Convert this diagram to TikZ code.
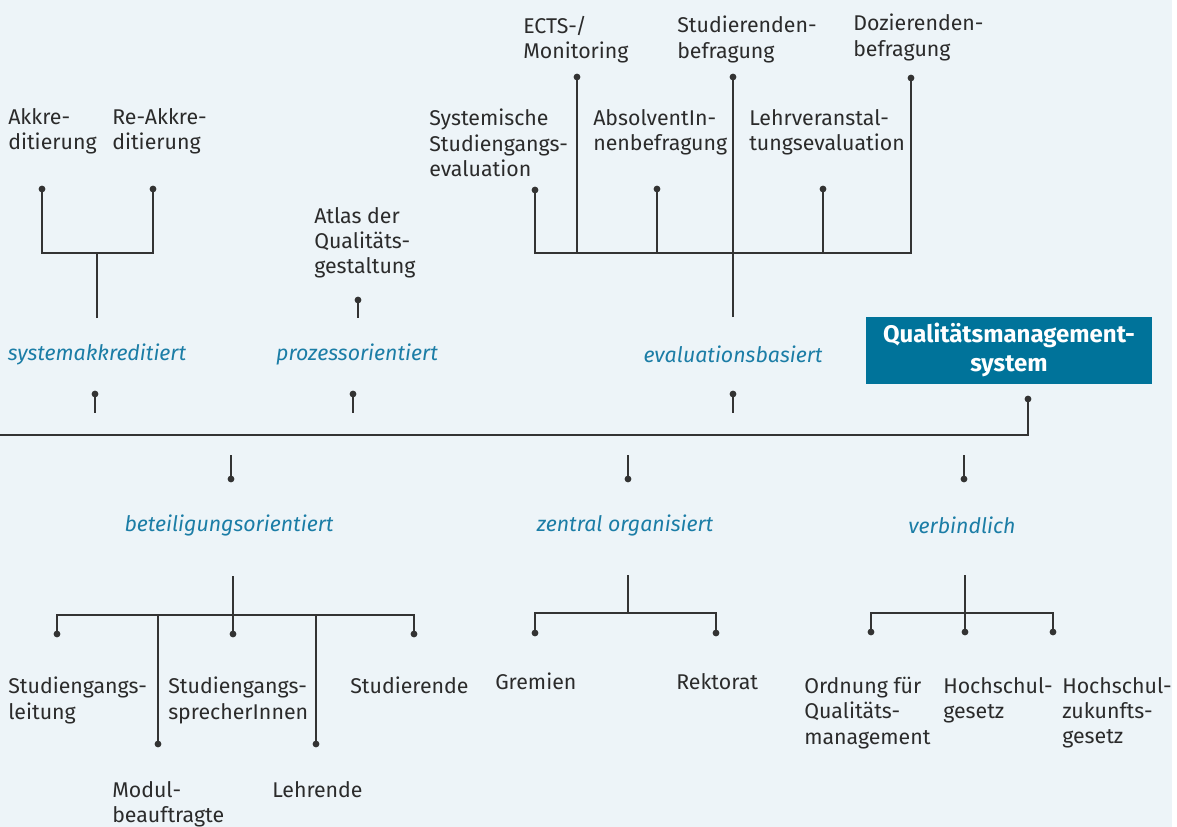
\documentclass[tikz,border=0pt]{standalone}
\usepackage{fontspec}
\setmainfont{Fira Sans}
\definecolor{bgblue}{HTML}{EDF4F8}
\definecolor{txtgray}{HTML}{2B2B2B}
\definecolor{linegray}{HTML}{333333}
\definecolor{catblue}{HTML}{1B7DA6}
\definecolor{boxblue}{HTML}{00739A}
\begin{document}
\begin{tikzpicture}[x=0.75pt,y=-0.75pt,
  lab/.style={anchor=north west,inner sep=0pt,align=left,text=txtgray,
    font=\fontsize{16}{19}\selectfont},
  cat/.style={inner sep=0pt,text=catblue,font=\fontsize{16}{19}\selectfont\itshape},
  conn/.style={draw=linegray,line width=1.45pt},
  dotc/.style={fill=linegray}]
\useasboundingbox (0,0) rectangle (1177,827);
\fill[bgblue] (0,0) rectangle (1172,827);
% box
\node[fill=boxblue,text=white,minimum width=286*0.75pt,minimum height=67*0.75pt,inner sep=0pt,
  align=center,font=\fontsize{18}{22}\selectfont\bfseries] (qms) at (1009,350) {Qualitätsmanagement-\\system};
% categories
\node[cat] (sys) at (97,354) {systemakkreditiert};
\node[cat] (pro) at (357,354) {prozessorientiert};
\node[cat] (eva) at (733,354) {evaluationsbasiert};
\node[cat] (bet) at (229,525) {beteiligungsorientiert};
\node[cat] (zen) at (625,525) {zentral organisiert};
\node[cat] (ver) at (962,525) {verbindlich};
% labels
\node[lab] (akk) at (8,108) {Akkre-\\ditierung};
\node[lab] (reakk) at (112,108) {Re-Akkre-\\ditierung};
\node[lab] (atlas) at (314,207) {Atlas der\\Qualitäts-\\gestaltung};
\node[lab] (ects) at (523,16) {ECTS-/\\Monitoring};
\node[lab] (stud) at (677,16) {Studierenden-\\befragung};
\node[lab] (doz) at (853,14) {Dozierenden-\\befragung};
\node[lab] (syse) at (429,109) {Systemische\\Studiengangs-\\evaluation};
\node[lab] (abs) at (593,109) {AbsolventIn-\\nenbefragung};
\node[lab] (lehrv) at (749,109) {Lehrveranstal-\\tungsevaluation};
\node[lab] (sgl) at (8,677) {Studiengangs-\\leitung};
\node[lab] (sgs) at (168,677) {Studiengangs-\\sprecherInnen};
\node[lab] (studi) at (350,677) {Studierende};
\node[lab] (modul) at (112,781) {Modul-\\beauftragte};
\node[lab] (lehr) at (272,781) {Lehrende};
\node[lab] (grem) at (495,673) {Gremien};
\node[lab] (rekt) at (676,673) {Rektorat};
\node[lab] (ord) at (804,677) {Ordnung für\\Qualitäts-\\management};
\node[lab] (hsg) at (943,677) {Hochschul-\\gesetz};
\node[lab] (hzg) at (1062,677) {Hochschul-\\zukunfts-\\gesetz};
% coordinates
\coordinate (mainL) at (0,435);
\coordinate (qdot) at (1028,399);
\foreach \n/\x in {s1/95,s2/353,s3/733}{
  \coordinate (\n d) at (\x,394); \coordinate (\n e) at (\x,413);}
\foreach \n/\x in {b1/231,b2/628,b3/964}{
  \coordinate (\n e) at (\x,455); \coordinate (\n d) at (\x,479);}
\coordinate (atd) at (358,300); \coordinate (ate) at (358,318);
% main line
\draw[conn] (mainL) -- (qdot|-mainL) -- (qdot);
\fill[dotc] (qdot) circle (3.4);
\foreach \n in {s1,s2,s3,b1,b2,b3}{
  \draw[conn] (\n d) -- (\n e); \fill[dotc] (\n d) circle (3.4);}
\draw[conn] (atd) -- (ate); \fill[dotc] (atd) circle (3.4);
% sys tree
\coordinate (sysb) at (97,318); \coordinate (sysj) at (97,253);
\coordinate (akd) at (42,189); \coordinate (rakd) at (153,189);
\draw[conn] (sysb) -- (sysj);
\draw[conn] (akd) -- (akd|-sysj) -- (rakd|-sysj) -- (rakd);
\fill[dotc] (akd) circle (3.4); \fill[dotc] (rakd) circle (3.4);
% eval tree
\coordinate (evb) at (733,317); \coordinate (evj) at (733,253);
\coordinate (sysed) at (535,190); \coordinate (ectsd) at (577,77);
\coordinate (absd) at (657,189); \coordinate (studd) at (733,77);
\coordinate (lehrvd) at (823,189); \coordinate (dozd) at (911,78);
\draw[conn] (evb) -- (studd);
\draw[conn] (sysed) -- (sysed|-evj) -- (dozd|-evj) -- (dozd);
\foreach \c in {ectsd,absd,lehrvd}{\draw[conn] (\c) -- (\c|-evj);}
\foreach \c in {sysed,ectsd,absd,studd,lehrvd,dozd}{\fill[dotc] (\c) circle (3.4);}
% bet tree
\coordinate (btt) at (233,576); \coordinate (btj) at (233,615);
\coordinate (sgld) at (57,634); \coordinate (sgsd) at (233,634); \coordinate (studid) at (414,634);
\coordinate (modd) at (158,744); \coordinate (lehrd) at (316,744);
\draw[conn] (btt) -- (sgsd);
\draw[conn] (sgld) -- (sgld|-btj) -- (studid|-btj) -- (studid);
\draw[conn] (modd) -- (modd|-btj); \draw[conn] (lehrd) -- (lehrd|-btj);
\foreach \c in {sgld,sgsd,studid,modd,lehrd}{\fill[dotc] (\c) circle (3.4);}
% zentral tree
\coordinate (zt) at (628,575); \coordinate (zj) at (628,613);
\coordinate (gd) at (535,633); \coordinate (rd) at (716,633);
\draw[conn] (zt) -- (zj);
\draw[conn] (gd) -- (gd|-zj) -- (rd|-zj) -- (rd);
\fill[dotc] (gd) circle (3.4); \fill[dotc] (rd) circle (3.4);
% verbindlich tree
\coordinate (vt) at (965,575); \coordinate (vj) at (965,613);
\coordinate (od) at (871,632); \coordinate (hd) at (965,632); \coordinate (hzd) at (1053,632);
\draw[conn] (vt) -- (hd);
\draw[conn] (od) -- (od|-vj) -- (hzd|-vj) -- (hzd);
\foreach \c in {od,hd,hzd}{\fill[dotc] (\c) circle (3.4);}
\end{tikzpicture}
\end{document}
